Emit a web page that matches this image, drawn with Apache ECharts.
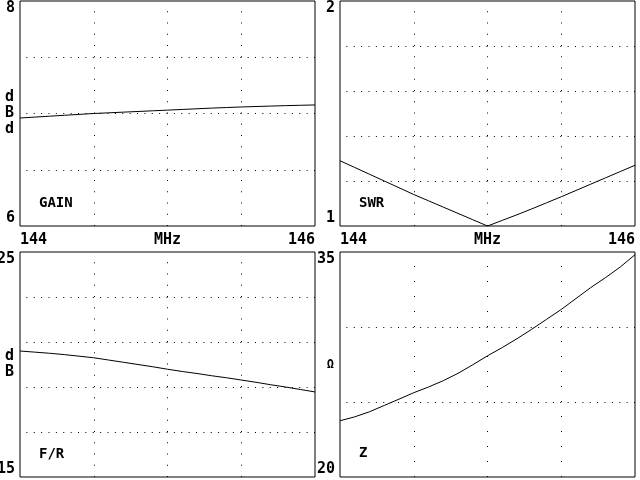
<!DOCTYPE html>
<html><head><meta charset="utf-8">
<script src="https://cdn.jsdelivr.net/npm/echarts@6/dist/echarts.min.js"></script>
<style>html,body{margin:0;padding:0;background:#fff}#c{width:640px;height:480px}</style>
</head><body><div id="c"></div>
<script>
// Frequencies (MHz)
const freq = [144.0, 144.1, 144.2, 144.3, 144.4, 144.5, 144.6, 144.7, 144.8, 144.9, 145.0,
              145.1, 145.2, 145.3, 145.4, 145.5, 145.6, 145.7, 145.8, 145.9, 146.0];
// Series values
const gain = [6.960, 6.968, 6.976, 6.984, 6.992, 7.000, 7.006, 7.012, 7.018, 7.024, 7.030,
              7.036, 7.042, 7.048, 7.053, 7.058, 7.062, 7.066, 7.070, 7.073, 7.076];
const swr  = [1.290, 1.260, 1.230, 1.200, 1.170, 1.140, 1.112, 1.084, 1.056, 1.028, 1.000,
              1.025, 1.050, 1.076, 1.103, 1.130, 1.158, 1.186, 1.214, 1.242, 1.270];
const fr   = [20.60, 20.55, 20.50, 20.44, 20.37, 20.30, 20.20, 20.10, 20.00, 19.90, 19.79,
              19.69, 19.60, 19.50, 19.41, 19.31, 19.21, 19.10, 19.00, 18.89, 18.78];
const z    = [23.75, 24.01, 24.35, 24.77, 25.19, 25.62, 26.00, 26.42, 26.91, 27.48, 28.08,
              28.63, 29.22, 29.85, 30.51, 31.17, 31.90, 32.63, 33.29, 34.00, 34.82];
// Tick labels
const xTickLabels = ['144', 'MHz', '146'];
const gainTicks = ['6', '8'];
const swrTicks = ['1', '2'];
const frTicks = ['15', '25'];
const zTicks = ['20', '35'];
const panelNames = ['GAIN', 'SWR', 'F/R', 'Z'];
const unitNames = ['d\nB\nd', '', 'd\nB', 'Ω'];

const FONT = 'DejaVu Sans Mono';
const chart = echarts.init(document.getElementById('c'), null, {renderer: 'canvas'});

const grids = [
  {left: 20, top: 1, width: 295, height: 225},
  {left: 340, top: 1, width: 295, height: 225},
  {left: 20, top: 252, width: 295, height: 225},
  {left: 340, top: 252, width: 295, height: 225}
];
const yDefs = [
  {ticks: gainTicks, interval: 0.5, dotGap: 10.25},
  {ticks: swrTicks, interval: 0.2, dotGap: 10.25},
  {ticks: frTicks, interval: 2, dotGap: 10.25},
  {ticks: zTicks, interval: 5, dotGap: 14}
];
const datasets = [gain, swr, fr, z];

const option = {
  animation: false,
  backgroundColor: '#fff',
  grid: grids.map(g => Object.assign({show: true, borderColor: '#000', borderWidth: 1, backgroundColor: '#fff', containLabel: false, outerBoundsMode: 'none'}, g)),
  title: [
    {text: panelNames[0], left: 39, top: 196},
    {text: panelNames[1], left: 359, top: 196},
    {text: panelNames[2], left: 39, top: 447},
    {text: panelNames[3], left: 359, top: 446}
  ].map(t => Object.assign(t, {padding: 0, textStyle: {fontFamily: FONT, fontSize: 14, fontWeight: 'bold', color: '#000'}})),
  xAxis: grids.map((g, i) => ({
    type: 'value', gridIndex: i, min: 144, max: 146, interval: 0.5,
    axisLine: {show: false}, axisTick: {show: false},
    axisLabel: {
      show: i < 2, margin: 7, color: '#000', fontFamily: FONT, fontSize: 15, fontWeight: 'bold',
      alignMinLabel: 'left', alignMaxLabel: 'right', hideOverlap: false,
      formatter: v => Math.abs(v - 144) < 1e-6 ? xTickLabels[0] : Math.abs(v - 145) < 1e-6 ? xTickLabels[1] : Math.abs(v - 146) < 1e-6 ? xTickLabels[2] : ''
    },
    splitLine: {show: true, showMinLine: false, showMaxLine: false,
      lineStyle: {color: '#000', width: 1, type: [1, yDefs[i].dotGap], dashOffset: 1}}
  })),
  yAxis: yDefs.map((d, i) => {
    const mn = parseFloat(d.ticks[0]), mx = parseFloat(d.ticks[1]);
    return {
      type: 'value', gridIndex: i, min: mn, max: mx, interval: d.interval,
      axisLine: {show: false}, axisTick: {show: false},
      name: unitNames[i], nameLocation: 'middle', nameRotate: 0, nameGap: 6, nameMoveOverlap: false,
      nameTextStyle: {color: '#000', fontFamily: FONT, fontSize: i === 3 ? 12 : 15, fontWeight: 'bold', lineHeight: 16},
      axisLabel: {
        margin: 5, color: '#000', fontFamily: FONT, fontSize: 15, fontWeight: 'bold',
        verticalAlignMinLabel: 'bottom', verticalAlignMaxLabel: 'top',
        formatter: v => Math.abs(v - mn) < 1e-6 ? d.ticks[0] : Math.abs(v - mx) < 1e-6 ? d.ticks[1] : ''
      },
      splitLine: {show: true, showMinLine: false, showMaxLine: false,
        lineStyle: {color: '#000', width: 1, type: [1, 6.375], dashOffset: 1}}
    };
  }),
  series: datasets.map((vals, i) => ({
    type: 'line', xAxisIndex: i, yAxisIndex: i,
    data: freq.map((f, k) => [f, vals[k]]),
    showSymbol: false, symbol: 'none',
    lineStyle: {color: '#000', width: 1}
  }))
};
chart.setOption(option);
</script>
</body></html>
